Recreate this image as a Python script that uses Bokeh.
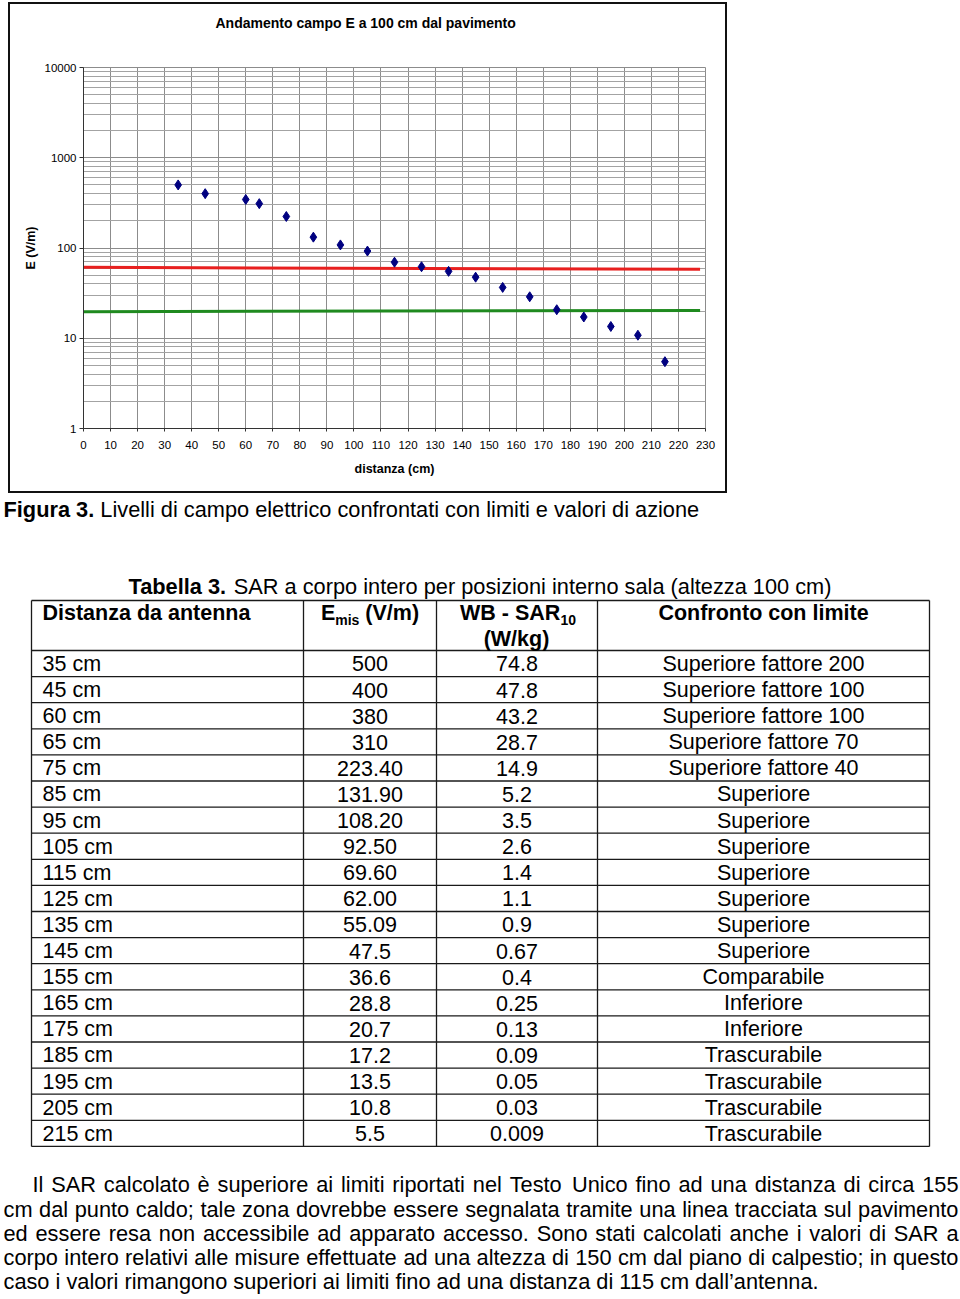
from bokeh.plotting import figure
from bokeh.models import Range1d, FixedTicker, BasicTickFormatter, Title
from bokeh.embed import file_html
from bokeh.resources import INLINE
from bokeh.core.properties import value

FONT = "Liberation Sans"

# ---------------- chart data ----------------
distance_cm = [35, 45, 60, 65, 75, 85, 95, 105, 115, 125, 135, 145, 155, 165, 175, 185, 195, 205, 215]
e_field_vm = [500, 400, 345, 310, 223.4, 131.9, 108.2, 92.5, 69.6, 62.0, 55.09, 47.5, 36.6, 28.8, 20.7, 17.2, 13.5, 10.8, 5.5]
limit_x = [0, 228]
limit_red = [61.0, 58.0]
limit_green = [19.7, 20.3]
x_ticks = [0, 10, 20, 30, 40, 50, 60, 70, 80, 90, 100, 110, 120, 130, 140, 150, 160, 170, 180, 190, 200, 210, 220, 230]
y_ticks = [1, 10, 100, 1000, 10000]
y_minor_ticks = [m * d for d in (1, 10, 100, 1000) for m in (2, 3, 4, 5, 6, 7, 8, 9)]

chart_title = "Andamento campo E a 100 cm dal pavimento"
x_label = "distanza (cm)"
y_label = "E (V/m)"

# ---------------- table data ----------------
table_dist = ["35 cm", "45 cm", "60 cm", "65 cm", "75 cm", "85 cm", "95 cm", "105 cm", "115 cm", "125 cm",
              "135 cm", "145 cm", "155 cm", "165 cm", "175 cm", "185 cm", "195 cm", "205 cm", "215 cm"]
table_emis = ["500", "400", "380", "310", "223.40", "131.90", "108.20", "92.50", "69.60", "62.00",
              "55.09", "47.5", "36.6", "28.8", "20.7", "17.2", "13.5", "10.8", "5.5"]
table_sar = ["74.8", "47.8", "43.2", "28.7", "14.9", "5.2", "3.5", "2.6", "1.4", "1.1",
             "0.9", "0.67", "0.4", "0.25", "0.13", "0.09", "0.05", "0.03", "0.009"]
table_conf = ["Superiore fattore 200", "Superiore fattore 100", "Superiore fattore 100", "Superiore fattore 70",
              "Superiore fattore 40", "Superiore", "Superiore", "Superiore", "Superiore", "Superiore",
              "Superiore", "Superiore", "Comparabile", "Inferiore", "Inferiore", "Trascurabile",
              "Trascurabile", "Trascurabile", "Trascurabile"]

caption_bold = "Figura 3."
caption_text = "Livelli di campo elettrico confrontati con limiti e valori di azione"
table_title_bold = "Tabella 3."
table_title_text = "SAR a corpo intero per posizioni interno sala (altezza 100 cm)"
paragraph_lines = [
    "Il SAR calcolato è superiore ai limiti riportati nel Testo Unico fino ad una distanza di circa 155",
    "cm dal punto caldo; tale zona dovrebbe essere segnalata tramite una linea tracciata sul pavimento",
    "ed essere resa non accessibile ad apparato accesso. Sono stati calcolati anche i valori di SAR a",
    "corpo intero relativi alle misure effettuate ad una altezza di 150 cm dal piano di calpestio; in questo",
    "caso i valori rimangono superiori ai limiti fino ad una distanza di 115 cm dall’antenna.",
]

# ---------------- font metrics (Arial / Liberation Sans, per 1000 em) ----------------
REG = {' ': 278, 'a': 556, 'b': 556, 'c': 500, 'd': 556, 'e': 556, 'f': 278, 'g': 556, 'h': 556, 'i': 222,
       'j': 222, 'k': 500, 'l': 222, 'm': 833, 'n': 556, 'o': 556, 'p': 556, 'q': 556, 'r': 333, 's': 500,
       't': 278, 'u': 556, 'v': 500, 'w': 722, 'x': 500, 'y': 500, 'z': 500,
       'A': 667, 'B': 667, 'C': 722, 'D': 722, 'E': 667, 'F': 611, 'G': 778, 'H': 722, 'I': 278, 'J': 500,
       'K': 667, 'L': 556, 'M': 833, 'N': 722, 'O': 778, 'P': 667, 'Q': 778, 'R': 722, 'S': 667, 'T': 611,
       'U': 722, 'V': 667, 'W': 944, 'X': 667, 'Y': 667, 'Z': 611,
       '.': 278, ',': 278, ';': 278, ':': 278, '(': 333, ')': 333, '/': 278, '-': 333, '’': 222, "'": 191, 'è': 556}
BOLD = {' ': 278, 'a': 556, 'b': 611, 'c': 556, 'd': 611, 'e': 556, 'f': 333, 'g': 611, 'h': 611, 'i': 278,
        'j': 278, 'k': 556, 'l': 278, 'm': 889, 'n': 611, 'o': 611, 'p': 611, 'q': 611, 'r': 389, 's': 556,
        't': 333, 'u': 611, 'v': 556, 'w': 778, 'x': 556, 'y': 556, 'z': 500,
        'A': 722, 'B': 722, 'C': 722, 'D': 722, 'E': 667, 'F': 611, 'G': 778, 'H': 722, 'I': 278, 'J': 556,
        'K': 722, 'L': 611, 'M': 833, 'N': 722, 'O': 778, 'P': 667, 'Q': 778, 'R': 722, 'S': 667, 'T': 611,
        'U': 722, 'V': 667, 'W': 944, 'X': 667, 'Y': 667, 'Z': 611,
        '.': 278, ',': 278, '(': 333, ')': 333, '/': 278, '-': 333}


def tw(s, bold=False):
    t = BOLD if bold else REG
    return sum(t.get(ch, 556) for ch in s) / 1000.0


# ---------------- chart ----------------
chart = figure(width=719, height=491, x_range=Range1d(0, 230), y_range=Range1d(1, 10000),
               y_axis_type="log", output_backend="svg", toolbar_location=None, title=None,
               min_border_left=75, min_border_right=22, min_border_top=65, min_border_bottom=65,
               background_fill_color="white", border_fill_color=None,
               outline_line_color="#8c8c8c", outline_line_width=1,
               styles={"margin-top": "2px", "margin-left": "8px", "background": "white",
                       "box-shadow": "inset 0 0 0 2px #111"})

# spacer panel next to the frame, then the real title above it
chart.add_layout(Title(text=" ", text_font=FONT, text_font_size="10px", standoff=24), "above")
chart.add_layout(Title(text=chart_title, align="left", offset=132, standoff=0,
                       text_font=FONT, text_font_size="14px", text_font_style="bold",
                       text_color="black"), "above")

xt = FixedTicker(ticks=x_ticks)
yt = FixedTicker(ticks=y_ticks, minor_ticks=y_minor_ticks)
chart.xaxis.ticker = xt
chart.xgrid.ticker = xt
chart.yaxis.ticker = yt
chart.ygrid.ticker = yt
chart.yaxis.formatter = BasicTickFormatter()
chart.xgrid.grid_line_color = "#8c8c8c"
chart.ygrid.grid_line_color = "#8c8c8c"
chart.ygrid.minor_grid_line_color = "#a3a3a3"

for ax in (chart.xaxis[0], chart.yaxis[0]):
    ax.axis_line_color = "#333333"
    ax.major_tick_line_color = "#333333"
    ax.major_tick_in = 0
    ax.minor_tick_line_color = None
    ax.major_label_text_font = FONT
    ax.major_label_text_font_size = "11.5px"
    ax.major_label_text_color = "black"
    ax.axis_label_text_font = FONT
    ax.axis_label_text_font_size = "12.5px"
    ax.axis_label_text_font_style = "bold"
    ax.axis_label_text_color = "black"
chart.xaxis.axis_label = x_label
chart.yaxis.axis_label = y_label
chart.xaxis.major_tick_out = 3
chart.yaxis.major_tick_out = 4
chart.xaxis.major_label_standoff = 9
chart.yaxis.major_label_standoff = 3
chart.xaxis.axis_label_standoff = 10
chart.yaxis.axis_label_standoff = 4

chart.line(limit_x, limit_red, line_color="#e8201f", line_width=3)
chart.line(limit_x, limit_green, line_color="#1f8a1f", line_width=3)
chart.scatter(distance_cm, e_field_vm, marker="diamond", size=10,
              fill_color="#000080", line_color="#000080")

# ---------------- page (caption, table, paragraph) ----------------
Y0 = 493
H = 1299 - Y0
page = figure(width=960, height=H, x_range=Range1d(0, 960), y_range=Range1d(Y0 + H, Y0),
              x_axis_type=None, y_axis_type=None, output_backend="svg", toolbar_location=None,
              min_border=0, outline_line_color=None, background_fill_color="white",
              border_fill_color="white")
page.grid.visible = False

BASE_K = 0.35  # the svg text is drawn centred on y: move up from the wanted baseline


def put(x, y, s, size, bold=False, align="left"):
    page.text(x=[x], y=[y - BASE_K * size], text=[s], text_font=value(FONT),
              text_font_size="%.2fpx" % size,
              text_font_style="bold" if bold else "normal", text_align=align,
              text_baseline="alphabetic", text_color="black")


# caption
wb = tw(caption_bold + " ", True)
wr = tw(caption_text)
S_cap = (699 - 3) / (wb + wr)
put(3, 517, caption_bold, S_cap, True)
put(3 + wb * S_cap, 517, caption_text, S_cap)

# table title
wb = tw(table_title_bold + " ", True)
wr = tw(table_title_text)
S_tt = (831 - 128) / (wb + wr)
put(128, 594, table_title_bold, S_tt, True)
put(128 + wb * S_tt, 594, table_title_text, S_tt)

# table grid
col_x = [31, 303, 436, 597, 929]
t_top = 600
h_bot = 650
row_h = 26.1
n = len(table_dist)
hy = [t_top, h_bot] + [h_bot + row_h * (k + 1) for k in range(n)]
t_bot = hy[-1]
page.segment(x0=[col_x[0]] * len(hy), y0=hy, x1=[col_x[-1]] * len(hy), y1=hy,
             line_color="#1a1a1a", line_width=1.3)
page.segment(x0=col_x, y0=[t_top] * len(col_x), x1=col_x, y1=[t_bot] * len(col_x),
             line_color="#1a1a1a", line_width=1.3)

S_tab = 21.5
S_sub = 14.0
hb = 620.5
put(42, hb, "Distanza da antenna", S_tab, True)
wE = tw("E", True) * S_tab
wm = tw("mis", True) * S_sub
wv = tw(" (V/m)", True) * S_tab
x0 = 369.5 - (wE + wm + wv) / 2
put(x0, hb, "E", S_tab, True)
put(x0 + wE, hb + 4, "mis", S_sub, True)
put(x0 + wE + wm + tw(" ", True) * S_tab, hb, "(V/m)", S_tab, True)
wW = tw("WB - SAR", True) * S_tab
w10 = tw("10", True) * S_sub
x0 = 517.5 - (wW + w10) / 2
put(x0, hb, "WB - SAR", S_tab, True)
put(x0 + wW, hb + 4, "10", S_sub, True)
put(516, 646, "(W/kg)", S_tab, True, "center")
put(763, hb, "Confronto con limite", S_tab, True, "center")

row_base = [h_bot + row_h * k + 21 - BASE_K * S_tab for k in range(n)]
page.text(x=[42] * n, y=row_base, text=table_dist, text_font=value(FONT),
          text_font_size="%.2fpx" % S_tab, text_align="left", text_baseline="alphabetic",
          text_color="black")
for cx, col in ((369.5, table_emis), (516.5, table_sar), (763, table_conf)):
    page.text(x=[cx] * n, y=row_base, text=col, text_font=value(FONT),
              text_font_size="%.2fpx" % S_tab, text_align="center", text_baseline="alphabetic",
              text_color="black")

# paragraph (justified)
S_par = (820 - 3) / tw(paragraph_lines[-1])
left, right = 3, 958
for i, line in enumerate(paragraph_lines):
    y = 1192 + 24.25 * i
    xs0 = left + (29 if i == 0 else 0)
    if i == len(paragraph_lines) - 1:
        put(xs0, y, line, S_par)
        continue
    words = line.split(" ")
    ws = [tw(w) * S_par for w in words]
    gap = (right - xs0 - sum(ws)) / (len(words) - 1)
    xs = []
    x = xs0
    for wd in ws:
        xs.append(x)
        x += wd + gap
    page.text(x=xs, y=[y - BASE_K * S_par] * len(words), text=words, text_font=value(FONT),
              text_font_size="%.2fpx" % S_par, text_align="left", text_baseline="alphabetic",
              text_color="black")

open("out.html", "w").write(file_html([chart, page], INLINE))
